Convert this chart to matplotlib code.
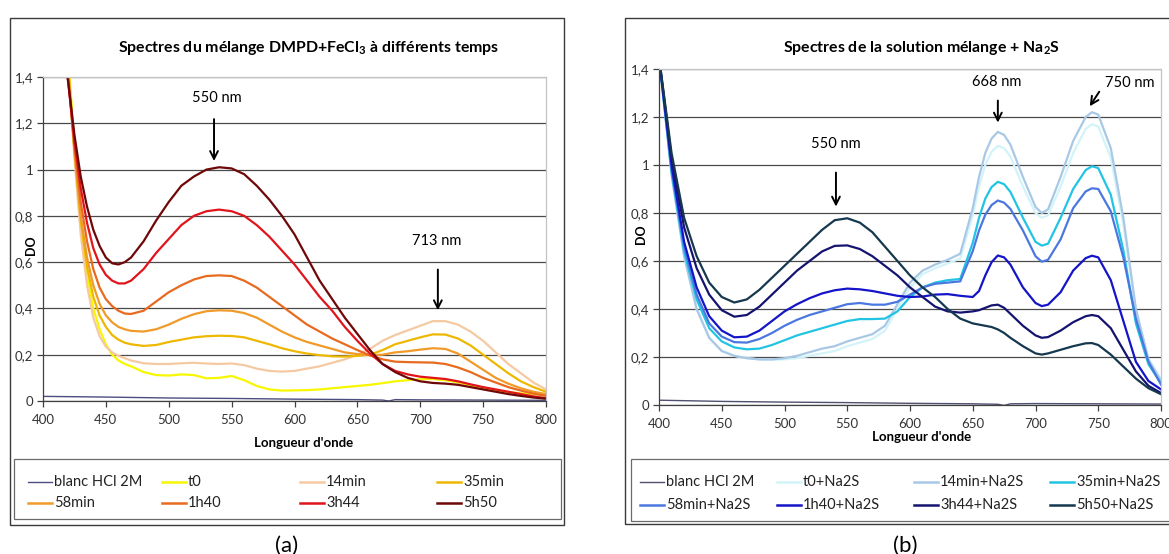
import matplotlib
matplotlib.use("Agg")
import matplotlib.pyplot as plt
from matplotlib.lines import Line2D
from matplotlib.patches import Rectangle

plt.rcParams['font.family'] = ['Lato', 'DejaVu Sans']
plt.rcParams['mathtext.fontset'] = 'custom'
plt.rcParams['mathtext.rm'] = 'Lato'
plt.rcParams['mathtext.bf'] = 'Lato:bold'

# ---------------- data panel (a) ----------------
wl_a = [415, 420, 425, 430, 435, 440, 445, 450, 455, 460, 465, 470,
        480, 490, 500, 510, 520, 530, 540, 550, 560, 570, 580, 590, 600,
        610, 620, 630, 640, 650, 660, 670, 680, 690, 700, 710, 720, 730,
        740, 750, 760, 770, 780, 790, 800]
t0_a = [1.85, 1.50, 1.10, 0.76, 0.54, 0.40, 0.31, 0.245, 0.20, 0.175, 0.16, 0.15,
        0.125, 0.112, 0.11, 0.115, 0.112, 0.098, 0.10, 0.108, 0.09, 0.065, 0.05, 0.045, 0.046,
        0.047, 0.05, 0.055, 0.06, 0.065, 0.07, 0.077, 0.085, 0.09, 0.094, 0.095, 0.09, 0.08,
        0.068, 0.055, 0.045, 0.038, 0.033, 0.03, 0.028]
m14_a = [1.80, 1.45, 1.05, 0.72, 0.50, 0.36, 0.28, 0.235, 0.21, 0.195, 0.185, 0.175,
         0.163, 0.16, 0.16, 0.163, 0.165, 0.162, 0.16, 0.162, 0.155, 0.14, 0.13, 0.127, 0.13,
         0.14, 0.15, 0.165, 0.18, 0.20, 0.225, 0.26, 0.285, 0.305, 0.325, 0.345, 0.345, 0.33,
         0.30, 0.26, 0.21, 0.16, 0.12, 0.08, 0.05]
m35_a = [1.75, 1.45, 1.08, 0.78, 0.58, 0.45, 0.37, 0.32, 0.285, 0.265, 0.252, 0.245,
         0.238, 0.242, 0.255, 0.265, 0.275, 0.28, 0.282, 0.281, 0.275, 0.26, 0.245, 0.228, 0.215,
         0.205, 0.198, 0.193, 0.192, 0.195, 0.20, 0.22, 0.245, 0.26, 0.275, 0.288, 0.287, 0.27,
         0.24, 0.20, 0.16, 0.12, 0.085, 0.06, 0.04]
m58_a = [1.70, 1.42, 1.08, 0.80, 0.62, 0.50, 0.42, 0.37, 0.34, 0.32, 0.31, 0.303,
         0.30, 0.31, 0.33, 0.355, 0.375, 0.388, 0.392, 0.39, 0.38, 0.36, 0.33, 0.30, 0.275,
         0.255, 0.24, 0.225, 0.21, 0.203, 0.198, 0.20, 0.21, 0.215, 0.222, 0.228, 0.225, 0.205,
         0.17, 0.135, 0.10, 0.075, 0.055, 0.04, 0.03]
h140_a = [1.65, 1.40, 1.10, 0.86, 0.69, 0.57, 0.49, 0.44, 0.41, 0.39, 0.378, 0.376,
          0.39, 0.43, 0.47, 0.50, 0.525, 0.54, 0.543, 0.54, 0.52, 0.49, 0.45, 0.41, 0.37,
          0.33, 0.30, 0.27, 0.245, 0.22, 0.197, 0.18, 0.17, 0.168, 0.167, 0.166, 0.16, 0.145,
          0.125, 0.10, 0.08, 0.06, 0.045, 0.032, 0.022]
h344_a = [1.60, 1.38, 1.12, 0.92, 0.77, 0.66, 0.59, 0.545, 0.52, 0.508, 0.508, 0.52,
          0.57, 0.64, 0.70, 0.76, 0.80, 0.82, 0.827, 0.82, 0.80, 0.76, 0.71, 0.65, 0.59,
          0.52, 0.45, 0.39, 0.32, 0.26, 0.205, 0.16, 0.13, 0.115, 0.105, 0.10, 0.095, 0.085,
          0.072, 0.06, 0.05, 0.04, 0.03, 0.02, 0.012]
h550_a = [1.60, 1.38, 1.15, 0.97, 0.84, 0.74, 0.67, 0.62, 0.595, 0.59, 0.60, 0.62,
          0.69, 0.78, 0.86, 0.93, 0.97, 1.00, 1.01, 1.005, 0.98, 0.93, 0.87, 0.80, 0.72,
          0.62, 0.52, 0.44, 0.36, 0.29, 0.22, 0.16, 0.125, 0.10, 0.085, 0.078, 0.075, 0.07,
          0.06, 0.05, 0.04, 0.03, 0.022, 0.015, 0.01]
wl_blank = [400, 450, 500, 550, 600, 650, 670, 675, 680, 700, 750, 800]
blank_a = [0.02, 0.017, 0.013, 0.011, 0.008, 0.006, 0.004, 0.0, 0.006, 0.005, 0.004, 0.003]

labels_a = ['blanc HCl 2M', 't0', '14min', '35min', '58min', '1h40', '3h44', '5h50']
colors_a = ['#4d4d80', '#f7f700', '#f5c9a2', '#eeb800', '#f09a2a', '#e86a1e', '#e0141a', '#6e0808']

# ---------------- data panel (b) ----------------
wl_b = [400, 410, 420, 430, 440, 450, 460, 470, 480, 490, 500, 510, 520, 530, 540,
        550, 560, 570, 580, 590, 600, 610, 620, 630, 640, 650, 655, 660, 665, 670,
        675, 680, 690, 700, 705, 710, 720, 730, 740, 745, 750, 760, 770, 780, 790, 800]
t0_b = [1.45, 0.96, 0.62, 0.40, 0.28, 0.225, 0.205, 0.195, 0.19, 0.188, 0.19, 0.195, 0.205, 0.215, 0.225,
        0.245, 0.26, 0.275, 0.31, 0.40, 0.49, 0.545, 0.57, 0.59, 0.61,
        0.79, 0.91, 1.00, 1.055, 1.08, 1.07, 1.035, 0.91, 0.80, 0.78, 0.79, 0.91, 1.05, 1.15, 1.17,
        1.16, 1.03, 0.75, 0.39, 0.19, 0.11]
m14_b = [1.45, 0.96, 0.62, 0.40, 0.28, 0.225, 0.205, 0.195, 0.19, 0.19, 0.195, 0.205, 0.22, 0.235, 0.245,
         0.265, 0.28, 0.295, 0.33, 0.42, 0.51, 0.56, 0.585, 0.605, 0.63,
         0.82, 0.95, 1.05, 1.11, 1.138, 1.125, 1.085, 0.95, 0.825, 0.80, 0.815, 0.95, 1.10, 1.20, 1.22,
         1.21, 1.07, 0.78, 0.40, 0.19, 0.10]
m35_b = [1.45, 0.97, 0.64, 0.44, 0.32, 0.265, 0.24, 0.232, 0.235, 0.25, 0.27, 0.29, 0.305, 0.32, 0.335,
         0.35, 0.358, 0.358, 0.36, 0.39, 0.45, 0.49, 0.51, 0.52, 0.525,
         0.676, 0.78, 0.86, 0.908, 0.93, 0.92, 0.888, 0.78, 0.68, 0.664, 0.672, 0.78, 0.90, 0.979, 0.995,
         0.987, 0.876, 0.645, 0.34, 0.17, 0.09]
m58_b = [1.45, 0.98, 0.66, 0.46, 0.34, 0.285, 0.262, 0.26, 0.275, 0.30, 0.33, 0.355, 0.375, 0.39, 0.405,
         0.42, 0.425, 0.418, 0.418, 0.43, 0.46, 0.49, 0.505, 0.51, 0.515,
         0.641, 0.727, 0.793, 0.833, 0.852, 0.843, 0.817, 0.727, 0.62, 0.597, 0.605, 0.69, 0.82, 0.89, 0.903,
         0.90, 0.807, 0.615, 0.36, 0.18, 0.085]
h140_b = [1.45, 1.0, 0.68, 0.49, 0.37, 0.31, 0.282, 0.285, 0.31, 0.35, 0.39, 0.42, 0.445, 0.465, 0.478,
          0.485, 0.482, 0.475, 0.465, 0.455, 0.45, 0.452, 0.46, 0.462, 0.455,
          0.45, 0.475, 0.54, 0.595, 0.623, 0.615, 0.585, 0.49, 0.425, 0.412, 0.418, 0.47, 0.56, 0.612, 0.622,
          0.615, 0.52, 0.35, 0.18, 0.10, 0.065]
h344_b = [1.45, 1.03, 0.74, 0.57, 0.46, 0.395, 0.368, 0.375, 0.41, 0.46, 0.51, 0.56, 0.60, 0.64, 0.663,
          0.665, 0.65, 0.62, 0.58, 0.54, 0.49, 0.45, 0.41, 0.39, 0.385,
          0.39, 0.395, 0.405, 0.415, 0.418, 0.405, 0.38, 0.33, 0.29, 0.28, 0.283, 0.31, 0.345, 0.37, 0.375,
          0.37, 0.32, 0.23, 0.14, 0.08, 0.05]
h550_b = [1.45, 1.05, 0.78, 0.62, 0.51, 0.45, 0.427, 0.44, 0.48, 0.53, 0.58, 0.63, 0.68, 0.73, 0.77,
          0.778, 0.76, 0.72, 0.66, 0.60, 0.54, 0.49, 0.45, 0.40, 0.36,
          0.34, 0.335, 0.33, 0.325, 0.315, 0.30, 0.28, 0.245, 0.215, 0.21, 0.215, 0.23, 0.245, 0.257, 0.258,
          0.25, 0.21, 0.16, 0.11, 0.07, 0.045]
blank_b = [0.02, 0.015, 0.012, 0.01, 0.007, 0.005, 0.003, -0.002, 0.005, 0.006, 0.005, 0.004]

labels_b = ['blanc HCl 2M', 't0+Na2S', '14min+Na2S', '35min+Na2S',
            '58min+Na2S', '1h40+Na2S', '3h44+Na2S', '5h50+Na2S']
colors_b = ['#505070', '#d2f4f8', '#a8c8e6', '#22c4e4', '#4a78e0', '#1414c8', '#141470', '#16384e']

yticks = [0, 0.2, 0.4, 0.6, 0.8, 1.0, 1.2, 1.4]
ytick_labels = ['0', '0,2', '0,4', '0,6', '0,8', '1', '1,2', '1,4']
xticks = [400, 450, 500, 550, 600, 650, 700, 750, 800]

W, H = 1169, 554
fig = plt.figure(figsize=(W / 100, H / 100), dpi=100)


def fx(x):
    return x / W


def fy(y):
    return 1 - y / H


def style_axes(ax):
    ax.set_xlim(400, 800)
    ax.set_ylim(0, 1.4)
    ax.set_yticks(yticks)
    ax.set_yticklabels(ytick_labels)
    ax.set_xticks(xticks)
    ax.tick_params(axis='both', direction='out', length=4, width=0.9, color='#404040',
                   labelsize=9.5, labelcolor='#333333')
    ax.tick_params(axis='x', pad=5)
    ax.tick_params(axis='y', pad=3)
    ax.yaxis.grid(True, color='#4a4a4a', lw=0.9)
    ax.set_axisbelow(True)
    for s in ['top', 'right']:
        ax.spines[s].set_color('#c4c4c4')
        ax.spines[s].set_linewidth(0.9)
    for s in ['left', 'bottom']:
        ax.spines[s].set_color('#404040')
        ax.spines[s].set_linewidth(0.9)


# outer frames
fig.patches.append(Rectangle((fx(10), fy(525)), fx(564) - fx(10), fy(18) - fy(525),
                             transform=fig.transFigure, fill=False, ec='#3a3a3a', lw=1.0))
fig.patches.append(Rectangle((fx(625), fy(524)), fx(1185) - fx(625), fy(18) - fy(524),
                             transform=fig.transFigure, fill=False, ec='#3a3a3a', lw=1.0))
# legend frames
fig.patches.append(Rectangle((fx(14), fy(519)), fx(561) - fx(14), fy(459) - fy(519),
                             transform=fig.transFigure, fill=False, ec='#6a6a6a', lw=0.9))
fig.patches.append(Rectangle((fx(631), fy(521)), fx(1180) - fx(631), fy(459) - fy(521),
                             transform=fig.transFigure, fill=False, ec='#6a6a6a', lw=0.9))

arrow_kw = dict(arrowstyle='->', lw=1.4, color='black', mutation_scale=14)

# ---------------- panel (a) ----------------
axa = fig.add_axes([fx(43), fy(401), fx(546) - fx(43), fy(77) - fy(401)])
style_axes(axa)
axa.plot(wl_blank, blank_a, color=colors_a[0], lw=1.0)
for vals, c in zip([t0_a, m14_a, m35_a, m58_a, h140_a, h344_a, h550_a], colors_a[1:]):
    axa.plot(wl_a, vals, color=c, lw=1.6, solid_joinstyle='round')

axa.text(538, 1.31, '550 nm', ha='center', va='center', fontsize=10.5)
axa.annotate('', xy=(536, 1.025), xytext=(536, 1.23), arrowprops=arrow_kw)
axa.text(713, 0.69, '713 nm', ha='center', va='center', fontsize=10.5)
axa.annotate('', xy=(714, 0.38), xytext=(714, 0.58), arrowprops=arrow_kw)

fig.text(fx(309), fy(48), 'Spectres du mélange DMPD+FeCl$_\\mathbf{3}$ à différents temps',
         ha='center', va='center', fontsize=11.4, fontweight='bold')
fig.text(fx(31), fy(245), 'DO', rotation=90, ha='center', va='center', fontsize=9, fontweight='bold')
fig.text(fx(304), fy(443), "Longueur d'onde", ha='center', va='center', fontsize=9.5, fontweight='bold')
fig.text(fx(287), fy(546), '(a)', ha='center', va='center', fontsize=16)

# ---------------- panel (b) ----------------
axb = fig.add_axes([fx(659), fy(405), fx(1161) - fx(659), fy(69) - fy(405)])
style_axes(axb)
axb.plot(wl_blank, blank_b, color=colors_b[0], lw=1.0)
for vals, c in zip([t0_b, m14_b, m35_b, m58_b, h140_b, h344_b, h550_b], colors_b[1:]):
    axb.plot(wl_b, vals, color=c, lw=1.6, solid_joinstyle='round')

axb.text(541, 1.087, '550 nm', ha='center', va='center', fontsize=10.5)
axb.annotate('', xy=(541, 0.815), xytext=(541, 0.98), arrowprops=arrow_kw)
axb.text(669, 1.345, '668 nm', ha='center', va='center', fontsize=10.5)
axb.annotate('', xy=(670, 1.165), xytext=(670, 1.28), arrowprops=arrow_kw)
axb.text(775, 1.34, '750 nm', ha='center', va='center', fontsize=10.5)
axb.annotate('', xy=(742, 1.235), xytext=(752, 1.315), arrowprops=arrow_kw)

fig.text(fx(922), fy(48), 'Spectres de la solution mélange + Na$_\\mathbf{2}$S',
         ha='center', va='center', fontsize=11.4, fontweight='bold')
fig.text(fx(641), fy(234), 'DO', rotation=90, ha='center', va='center', fontsize=9, fontweight='bold')
fig.text(fx(922), fy(437), "Longueur d'onde", ha='center', va='center', fontsize=9.5, fontweight='bold')
fig.text(fx(905), fy(546), '(b)', ha='center', va='center', fontsize=16)


# ---------------- legends (Excel-style grid) ----------------
def draw_legend(labels, colors, col_x, row_y):
    for i, (lab, c) in enumerate(zip(labels, colors)):
        x0 = col_x[i % 4]
        y0 = row_y[i // 4]
        lw = 1.0 if i == 0 else 1.8
        fig.add_artist(Line2D([fx(x0), fx(x0 + 24)], [fy(y0), fy(y0)],
                              transform=fig.transFigure, color=c, lw=lw))
        fig.text(fx(x0 + 26), fy(y0), lab, ha='left', va='center', fontsize=10.5, color='#222222')


draw_legend(labels_a, colors_a, [28, 162, 300, 437], [482, 503])
draw_legend(labels_b, colors_b, [640, 777, 914, 1050], [482, 505])

fig.savefig('out.png', dpi=100)
